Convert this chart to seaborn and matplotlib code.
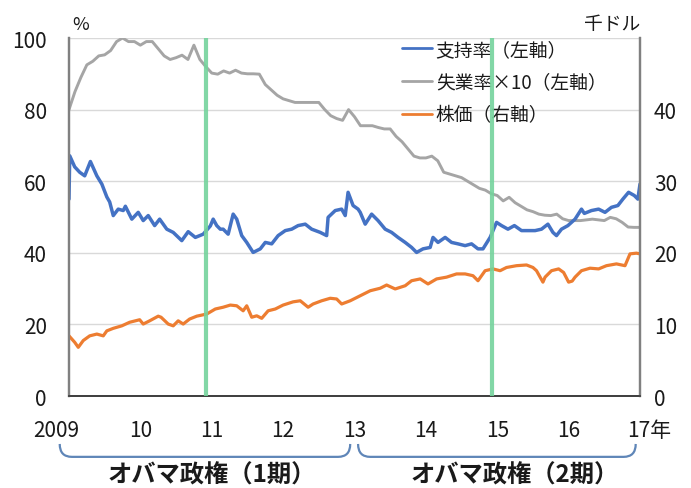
import numpy as np
import pandas as pd
import matplotlib
matplotlib.use("Agg")
import matplotlib.pyplot as plt
import seaborn as sns
from matplotlib.lines import Line2D
from matplotlib.path import Path
from matplotlib.patches import PathPatch
from matplotlib.transforms import ScaledTranslation, blended_transform_factory

# ---- data -------------------------------------------------------------
# Presidential approval (%), read at irregular dates (decimal years)
approval_t = [
    2009.00, 2009.01, 2009.08, 2009.15, 2009.22, 2009.30, 2009.39, 2009.46, 2009.53,
    2009.57, 2009.62, 2009.69, 2009.76, 2009.79, 2009.88, 2009.97, 2010.04, 2010.11,
    2010.20, 2010.27, 2010.37, 2010.46, 2010.58, 2010.67, 2010.77, 2010.88, 2010.98,
    2011.02, 2011.07, 2011.12, 2011.16, 2011.23, 2011.30, 2011.35, 2011.42, 2011.49,
    2011.58, 2011.68, 2011.75, 2011.84, 2011.93, 2012.03, 2012.12, 2012.21, 2012.31,
    2012.40, 2012.52, 2012.61, 2012.63, 2012.73, 2012.82, 2012.87, 2012.91, 2012.98,
    2013.05, 2013.08, 2013.15, 2013.24, 2013.33, 2013.43, 2013.52, 2013.61, 2013.71,
    2013.80, 2013.87, 2013.96, 2014.06, 2014.10, 2014.17, 2014.27, 2014.36, 2014.45,
    2014.55, 2014.64, 2014.73, 2014.80, 2014.90, 2014.99, 2015.06, 2015.15, 2015.24,
    2015.34, 2015.43, 2015.53, 2015.62, 2015.71, 2015.78, 2015.83, 2015.90, 2015.99,
    2016.09, 2016.18, 2016.22, 2016.32, 2016.42, 2016.51, 2016.60, 2016.69, 2016.76,
    2016.84, 2016.92, 2016.97, 2017.00,
]
approval = [
    55.0, 67.1, 64.0, 62.5, 61.5, 65.5, 61.5, 59.2, 55.6,
    54.2, 50.4, 52.2, 51.8, 53.0, 49.4, 51.3, 49.0, 50.4,
    47.6, 49.4, 46.6, 45.7, 43.4, 45.9, 44.3, 45.2, 47.5,
    49.4, 47.6, 46.6, 46.6, 45.2, 50.8, 49.4, 44.8, 42.9,
    40.1, 41.1, 42.9, 42.5, 44.8, 46.2, 46.6, 47.6, 48.0,
    46.6, 45.7, 44.8, 49.9, 51.8, 52.2, 50.4, 56.9, 53.2,
    52.2, 51.3, 48.0, 50.8, 49.0, 46.6, 45.7, 44.3, 42.9,
    41.5, 40.1, 41.1, 41.5, 44.3, 42.9, 44.3, 42.9, 42.5,
    42.0, 42.5, 41.1, 41.1, 44.3, 48.5, 47.6, 46.6, 47.6,
    46.2, 46.2, 46.2, 46.6, 48.0, 45.7, 44.8, 46.6, 47.6,
    49.4, 52.2, 51.0, 51.8, 52.2, 51.3, 52.7, 53.2, 55.0,
    56.9, 56.0, 55.0, 59.2,
]

# Unemployment rate x10 (%), monthly Jan 2009 - Jan 2017
unemp_x10 = [
    80.0, 85.0, 89.0, 92.5, 93.5, 95.0, 95.3, 96.5, 99.0, 100.0, 99.0, 99.0,
    98.0, 99.0, 99.0, 97.0, 95.0, 94.0, 94.5, 95.2, 94.0, 98.0, 94.0, 92.0,
    90.2, 89.9, 90.8, 90.2, 91.0, 90.2, 90.0, 90.0, 89.9, 87.0, 85.5, 84.0,
    83.0, 82.5, 82.0, 82.0, 82.0, 82.0, 82.0, 80.0, 78.3, 77.5, 77.0, 80.0,
    78.0, 75.5, 75.5, 75.5, 75.0, 74.6, 74.6, 72.5, 71.0, 69.0, 67.0, 66.5,
    66.5, 67.0, 65.7, 62.5, 62.0, 61.5, 61.0, 60.0, 59.0, 58.0, 57.5, 56.5,
    56.0, 54.5, 55.5, 54.0, 53.0, 52.0, 51.5, 50.8, 50.5, 50.4, 50.8, 49.5,
    49.0, 49.0, 49.0, 49.2, 49.4, 49.2, 49.0, 49.9, 49.5, 48.5, 47.2, 47.1,
    47.1,
]
months = pd.date_range("2009-01-01", "2017-01-01", freq="MS")
unemp_t = months.year + (months.month - 1) / 12

# Stock price (thousand dollars, right axis)
stock_t = [
    2009.00, 2009.08, 2009.13, 2009.20, 2009.29, 2009.39, 2009.48, 2009.53, 2009.62,
    2009.74, 2009.85, 2009.99, 2010.04, 2010.13, 2010.25, 2010.29, 2010.39, 2010.46,
    2010.53, 2010.60, 2010.69, 2010.79, 2010.93, 2011.05, 2011.16, 2011.26, 2011.35,
    2011.44, 2011.49, 2011.56, 2011.63, 2011.70, 2011.79, 2011.89, 2012.00, 2012.14,
    2012.24, 2012.35, 2012.42, 2012.54, 2012.66, 2012.75, 2012.82, 2012.94, 2013.08,
    2013.22, 2013.36, 2013.45, 2013.57, 2013.71, 2013.80, 2013.92, 2014.03, 2014.15,
    2014.29, 2014.43, 2014.55, 2014.66, 2014.73, 2014.83, 2014.94, 2015.04, 2015.13,
    2015.27, 2015.41, 2015.50, 2015.55, 2015.64, 2015.67, 2015.76, 2015.86, 2015.93,
    2016.00, 2016.05, 2016.09, 2016.18, 2016.30, 2016.42, 2016.53, 2016.67, 2016.79,
    2016.86, 2016.95, 2017.00,
]
stock = [
    8.40, 7.50, 6.80, 7.75, 8.40, 8.65, 8.40, 9.10, 9.45,
    9.80, 10.30, 10.65, 10.05, 10.50, 11.15, 11.00, 10.05, 9.80,
    10.50, 10.05, 10.75, 11.15, 11.45, 12.15, 12.40, 12.70, 12.60,
    11.90, 12.60, 11.00, 11.20, 10.85, 11.90, 12.15, 12.70, 13.15,
    13.30, 12.40, 12.85, 13.30, 13.65, 13.55, 12.85, 13.30, 14.00,
    14.70, 15.05, 15.50, 14.95, 15.40, 16.10, 16.35, 15.65, 16.35,
    16.60, 17.05, 17.05, 16.80, 16.10, 17.50, 17.75, 17.50, 17.95,
    18.20, 18.30, 17.95, 17.50, 15.90, 16.60, 17.50, 17.75, 17.25,
    15.90, 16.05, 16.60, 17.50, 17.85, 17.75, 18.20, 18.45, 18.20,
    19.85, 19.95, 19.85,
]

# Midterm elections
midterms = [2010.92, 2014.93]

years = list(range(2009, 2018))
year_labels = ["2009", "10", "11", "12", "13", "14", "15", "16", "17年"]
terms = [(2009, 2013, "オバマ政権（1期）", 2011.0), (2013, 2017, "オバマ政権（2期）", 2015.25)]

BLUE, GRAY, ORANGE, GREEN = "#4472C4", "#A5A5A5", "#ED7D31", "#74D39C"

# ---- style ------------------------------------------------------------
sns.set_style("white")
plt.rcParams["font.family"] = ["Noto Sans CJK JP", "DejaVu Sans"]
plt.rcParams["text.color"] = "#1a1a1a"

fig = plt.figure(figsize=(6.91, 4.89), dpi=100)
W, H = 691, 489
ax = fig.add_axes([69 / W, 1 - 397 / H, (640 - 69) / W, (397 - 39) / H])
ax2 = ax.twinx()

sns.lineplot(x=unemp_t, y=unemp_x10, ax=ax, color=GRAY, lw=2.1, sort=False, estimator=None)
sns.lineplot(x=approval_t, y=approval, ax=ax, color=BLUE, lw=2.5, sort=False, estimator=None)
sns.lineplot(x=stock_t, y=stock, ax=ax2, color=ORANGE, lw=2.3, sort=False, estimator=None)

ax.set_xlim(2009, 2017)
ax.set_ylim(0, 100)
ax2.set_ylim(0, 50)
ax.set_xlabel("")
ax.set_ylabel("")
ax2.set_ylabel("")

# grid
ax.set_yticks([0, 20, 40, 60, 80, 100])
ax.yaxis.grid(True, color="#d9d9d9", lw=1)
ax.set_axisbelow(True)
ax2.set_yticks([0, 10, 20, 30, 40])

# spines
for a in (ax, ax2):
    a.spines["top"].set_visible(False)
    a.spines["left"].set_color("#808080")
    a.spines["right"].set_color("#808080")
    a.spines["left"].set_linewidth(1.6)
    a.spines["right"].set_linewidth(1.6)
    a.spines["bottom"].set_color("#404040")
    a.spines["bottom"].set_linewidth(1.3)

ax.tick_params(axis="y", length=0, pad=16, labelsize=15, labelcolor="#1a1a1a")
ax2.tick_params(axis="y", length=0, pad=10, labelsize=15, labelcolor="#1a1a1a")

# x ticks: years (major) and months (minor)
ax.set_xticks(years)
ax.set_xticklabels(year_labels)
ax.set_xticks(2009 + np.arange(1, 96) / 12, minor=True)
ax.tick_params(axis="x", which="major", direction="inout", length=11, width=1.2,
               color="#303030", pad=11, labelsize=15, labelcolor="#1a1a1a")
ax.tick_params(axis="x", which="minor", direction="in", length=3.5, width=0.9,
               color="#303030")
lbls = ax.get_xticklabels()
lbls[0].set_transform(lbls[0].get_transform() + ScaledTranslation(-13 / 100, 0, fig.dpi_scale_trans))
lbls[-1].set_transform(lbls[-1].get_transform() + ScaledTranslation(9 / 100, 0, fig.dpi_scale_trans))

# midterm markers
for m in midterms:
    ax2.axvline(m, color=GREEN, lw=3.0, alpha=0.9, zorder=10)

# unit labels
ax.text(0.02, 1.04, "%", transform=ax.transAxes, ha="center", va="center", fontsize=13)
ax.text(0.951, 1.04, "千ドル", transform=ax.transAxes, ha="center", va="center", fontsize=13.5)

# legend
handles = [Line2D([], [], color=BLUE, lw=2), Line2D([], [], color=GRAY, lw=2),
           Line2D([], [], color=ORANGE, lw=2)]
labels = ["支持率（左軸）", "失業率×10（左軸）", "株価（右軸）"]
ax2.legend(handles, labels, loc="upper left", bbox_to_anchor=(402 / W, 1 - 40 / H),
           bbox_transform=fig.transFigure, frameon=False, fontsize=13.5,
           handlelength=1.6, handletextpad=0.2, labelspacing=0.62,
           borderaxespad=0, borderpad=0)

# term brackets under the axis
tr = blended_transform_factory(ax.transData, ax.transAxes)
y_top, y_bot = -0.134, -0.170
r = 0.17
for (a, b, name, cx) in terms:
    x0 = a - 0.13 if a == 2009 else a + 0.05
    x1 = b - 0.06
    verts = [(x0, y_top), (x0, y_bot), (x0 + r, y_bot), (x1 - r, y_bot),
             (x1, y_bot), (x1, y_top)]
    codes = [Path.MOVETO, Path.CURVE3, Path.CURVE3, Path.LINETO, Path.CURVE3, Path.CURVE3]
    ax.add_patch(PathPatch(Path(verts, codes), transform=tr, fc="none",
                           ec="#5f86b8", lw=1.6, clip_on=False))
    ax.text(cx, -0.218, name, transform=tr, ha="center", va="center",
            fontsize=17.5, fontweight="bold")

fig.savefig("out.png", dpi=100)
